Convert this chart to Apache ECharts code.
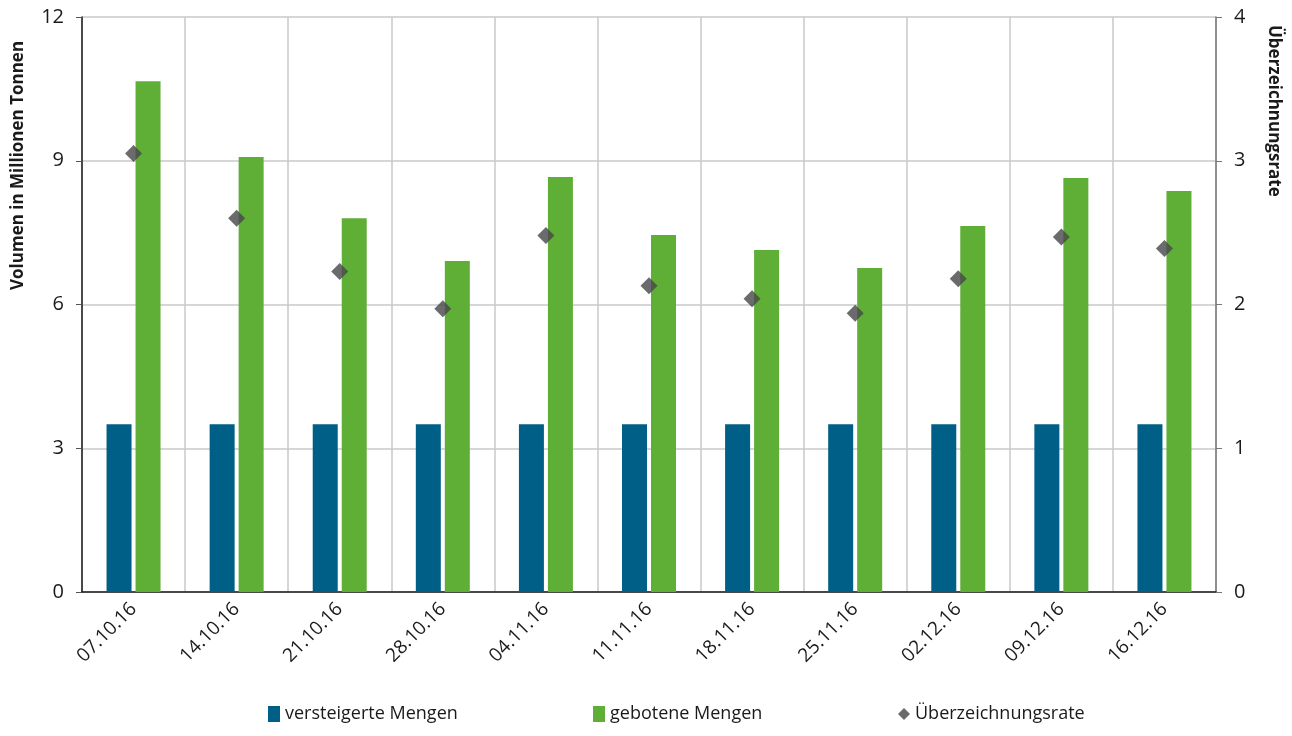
<!DOCTYPE html>
<html><head><meta charset="utf-8">
<script src="https://cdn.jsdelivr.net/npm/echarts@6/dist/echarts.min.js"></script>
<style>html,body{margin:0;padding:0;background:#fff}#c{width:1292px;height:736px}</style>
</head><body><div id="c"></div>
<script>
const categories = ['07.10.16','14.10.16','21.10.16','28.10.16','04.11.16','11.11.16','18.11.16','25.11.16','02.12.16','09.12.16','16.12.16'];
const versteigert = [3.5,3.5,3.5,3.5,3.5,3.5,3.5,3.5,3.5,3.5,3.5];
const geboten = [10.66,9.08,7.80,6.91,8.66,7.45,7.14,6.76,7.64,8.64,8.37];
const rate = [3.05,2.60,2.23,1.97,2.48,2.13,2.04,1.94,2.18,2.47,2.39];
const leftTicks = [0,3,6,9,12];
const rightTicks = [0,1,2,3,4];
const FONT = "'Open Sans','Noto Sans',sans-serif";
const LEG = "'Liberation Sans Narrow','Open Sans',sans-serif";
const chart = echarts.init(document.getElementById('c'));
const legStyle = {fontSize:18,color:'#1a1a1a',fontFamily:LEG};
chart.setOption({
  animation:false,
  textStyle:{fontFamily:FONT},
  grid:{left:82,right:76,top:17,bottom:144},
  legend:[
    {bottom:8,left:263,itemWidth:12,itemHeight:16,textStyle:legStyle,data:[{name:'versteigerte Mengen',icon:'rect'}]},
    {bottom:8,left:588,itemWidth:12,itemHeight:16,textStyle:legStyle,data:[{name:'gebotene Mengen',icon:'rect'}]},
    {bottom:8,left:893,itemWidth:12,itemHeight:12,itemGap:4,textStyle:legStyle,data:[{name:'Überzeichnungsrate',icon:'diamond',itemStyle:{color:'#464648'}}]}
  ],
  graphic:[
    {type:'text',x:10,y:290,rotation:Math.PI/2,style:{text:'Volumen in Millionen Tonnen',font:"bold 17px 'Open Sans', sans-serif",fill:'#1a1a1a',textAlign:'left',textVerticalAlign:'top'}},
    {type:'text',x:1282,y:25,rotation:-Math.PI/2,style:{text:'Überzeichnungsrate',font:"bold 17px 'Open Sans', sans-serif",fill:'#1a1a1a',textAlign:'left',textVerticalAlign:'top'}}
  ],
  xAxis:{
    type:'category',data:categories,
    axisLine:{show:true,lineStyle:{color:'#1a1a1a',width:1.5}},
    axisTick:{show:false},
    splitLine:{show:true,lineStyle:{color:'#c8c8c8',width:1.5}},
    axisLabel:{rotate:45,fontSize:19,color:'#1a1a1a',margin:14,interval:0,fontFamily:FONT}
  },
  yAxis:[{
    type:'value',min:0,max:12,interval:3,
    axisLine:{show:true,lineStyle:{color:'#1a1a1a',width:1.5}},
    axisTick:{show:true,length:6,lineStyle:{color:'#555'}},
    axisLabel:{fontSize:20,color:'#1a1a1a',margin:18,fontFamily:FONT,formatter:v=>leftTicks.includes(v)?String(v):''},
    splitLine:{show:true,lineStyle:{color:'#c8c8c8',width:1.5}}
  },{
    type:'value',min:0,max:4,interval:1,position:'right',
    axisLine:{show:true,lineStyle:{color:'#777',width:1.5}},
    axisTick:{show:true,length:6,lineStyle:{color:'#777'}},
    axisLabel:{fontSize:20,color:'#1a1a1a',margin:18,fontFamily:FONT,formatter:v=>rightTicks.includes(v)?String(v):''},
    splitLine:{show:false}
  }],
  series:[
    {name:'versteigerte Mengen',type:'bar',data:versteigert,barWidth:25,barGap:'16%',itemStyle:{color:'#005f86'}},
    {name:'gebotene Mengen',type:'bar',data:geboten,barWidth:25,itemStyle:{color:'#5fae36'}},
    {name:'Überzeichnungsrate',type:'scatter',yAxisIndex:1,data:rate,symbol:'diamond',symbolSize:[17,17],itemStyle:{color:'#464648'},z:5}
  ]
});
</script></body></html>
